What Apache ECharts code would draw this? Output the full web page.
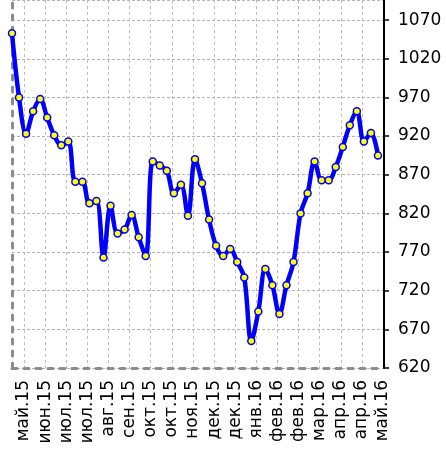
<!DOCTYPE html>
<html>
<head>
<meta charset="utf-8">
<script src="https://cdn.jsdelivr.net/npm/echarts@6/dist/echarts.min.js"></script>
<style>
  html, body { margin: 0; padding: 0; background: #fff; }
  #chart { width: 446px; height: 459px; }
</style>
</head>
<body>
<div id="chart"></div>
<script>
// подписи оси X, по одной на каждые 21 день
const tickLabels = ['май.15', 'июн.15', 'июл.15', 'июл.15', 'авг.15', 'сен.15', 'окт.15', 'окт.15', 'ноя.15',
  'дек.15', 'дек.15', 'янв.16', 'фев.16', 'фев.16', 'мар.16', 'апр.16', 'апр.16', 'май.16']
// недельные значения
const values = [1053, 970, 923, 952, 968, 944, 921, 908, 913, 861,
  861, 833, 836, 763, 830, 794, 799, 818, 789, 765,
  887, 882, 875, 846, 857, 817, 890, 859, 812, 778,
  765, 774, 757, 737, 655, 693, 748, 727, 690, 727,
  757, 820, 846, 887, 863, 863, 880, 906, 934, 952,
  913, 924, 895]
const stepDays = 7
const firstTickDay = 12
const tickEvery = 21
const totalDays = 370

// ось X по дням: подпись только на каждом 21-м дне
const isTick = i => i >= firstTickDay && (i - firstTickDay) % tickEvery === 0
const days = []
for (let d = 0; d <= totalDays; d++) {
  days.push(isTick(d) ? tickLabels[(d - firstTickDay) / tickEvery] : '')
}

const myChart = echarts.init(document.querySelector('#chart'))

const option = {
  animation: false,
  grid: { left: 12, right: 62, top: 0, bottom: 91 },
  xAxis: {
    type: 'category',
    data: days,
    boundaryGap: false,
    axisLine: { lineStyle: { color: '#8c8c8c', width: 3, type: [5, 7] } },
    axisTick: { show: false },
    axisLabel: {
      interval: isTick,
      rotate: 90,
      margin: 12,
      fontSize: 17,
      fontFamily: 'DejaVu Sans',
      color: '#000'
    },
    splitLine: {
      show: true,
      interval: isTick,
      lineStyle: { color: '#bdbdbd', width: 1, type: [3, 3] }
    }
  },
  yAxis: [
    {
      type: 'value',
      position: 'right',
      min: 620,
      max: 1096,
      interval: 50,
      axisLine: { show: true, lineStyle: { color: '#000', width: 2 } },
      axisTick: { show: true, length: 5, lineStyle: { color: '#000', width: 1.5 } },
      axisLabel: {
        margin: 14,
        fontSize: 17,
        fontFamily: 'DejaVu Sans',
        color: '#000',
        showMaxLabel: false,
        formatter: v => String(v)
      },
      splitLine: { lineStyle: { color: '#b4b4b4', width: 1, type: [3, 2] } }
    },
    {
      type: 'value',
      position: 'left',
      min: 620,
      max: 1096,
      axisLine: { show: true, lineStyle: { color: '#8c8c8c', width: 3, type: [5, 7] } },
      axisTick: { show: false },
      axisLabel: { show: false },
      splitLine: { show: false }
    }
  ],
  series: [
    {
      type: 'line',
      data: values.map((v, i) => [i * stepDays, v]),
      smooth: 0.35,
      symbol: 'circle',
      symbolSize: 7,
      showAllSymbol: true,
      lineStyle: { color: '#0000ff', width: 4.5 },
      itemStyle: { color: '#ffff00', borderColor: '#0000ff', borderWidth: 1.5 },
      z: 3
    }
  ]
}

myChart.setOption(option)
</script>
</body>
</html>
